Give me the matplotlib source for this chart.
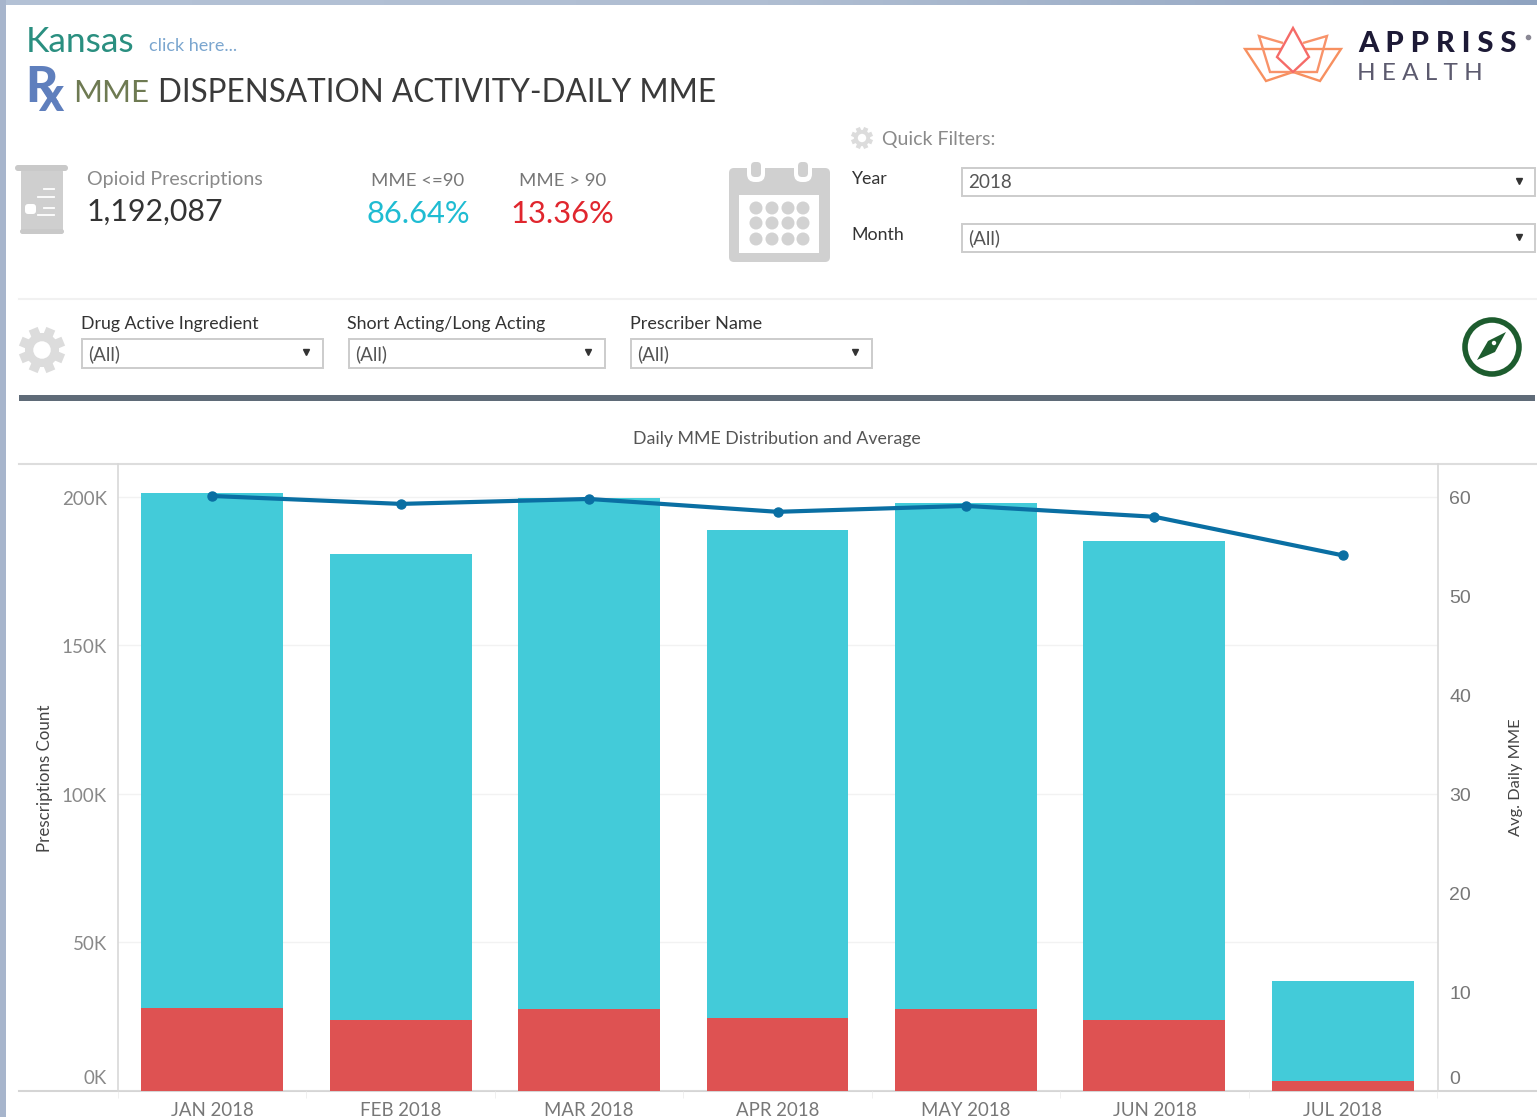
import numpy as np
import matplotlib
matplotlib.use("Agg")
from matplotlib import pyplot as plt
from matplotlib.patches import Rectangle, Circle, Polygon, FancyBboxPatch
from matplotlib.transforms import ScaledTranslation

plt.rcParams['font.family'] = ['Lato', 'DejaVu Sans']

# Data
months = ['JAN 2018', 'FEB 2018', 'MAR 2018', 'APR 2018', 'MAY 2018', 'JUN 2018', 'JUL 2018']
mme_over_90 = [27900, 23900, 27600, 24600, 27600, 23900, 3400]
mme_under_90 = [173400, 156900, 172100, 164300, 170400, 161300, 33600]
avg_daily_mme = [60.1, 59.3, 59.8, 58.5, 59.1, 58.0, 54.1]
left_ticks = [0, 50000, 100000, 150000, 200000]
left_labels = ['0K', '50K', '100K', '150K', '200K']
right_ticks = [0, 10, 20, 30, 40, 50, 60]

W, H = 1537, 1117
fig = plt.figure(figsize=(W / 100, H / 100), dpi=100, facecolor='white')

# layer for the dashboard pieces, in pixel coordinates
bg = fig.add_axes([0, 0, 1, 1])
bg.set_xlim(0, W)
bg.set_ylim(H, 0)
bg.axis('off')


def txt(x, y, s, size, color, ha='left', rotation=0, weight='normal', family=None):
    dy = 0 if rotation else 2
    return bg.text(x, y + dy, s, fontsize=size, color=color, ha=ha, va='center', rotation=rotation,
                   fontweight=weight, family=family if family else ['Lato', 'DejaVu Sans'], zorder=6)


def gear(x, y, r, color):
    for a in np.arange(0, 180, 45):
        dx, dy = np.cos(np.radians(a + 22.5)) * r, np.sin(np.radians(a + 22.5)) * r
        bg.plot([x - dx, x + dx], [y - dy, y + dy], color=color, lw=r * 0.3, solid_capstyle='butt')
    bg.add_patch(Circle((x, y), r * 0.74, fc=color, ec='none', zorder=3))
    bg.add_patch(Circle((x, y), r * 0.38, fc='white', ec='none', zorder=4))


def dropdown(x0, x1, y0, y1, label, arrow_x):
    bg.add_patch(Rectangle((x0, y0), x1 - x0, y1 - y0, fc='white', ec='#cccccc', lw=1.4))
    txt(x0 + 6.5, (y0 + y1) / 2 - 1.5, label, 13.6, '#555555')
    bg.plot([arrow_x], [(y0 + y1) / 2 - 1.5], marker='v', ms=5, color='#333333', ls='none')


# window border
grad = np.linspace(0, 1, 256).reshape(1, -1)
cmap = matplotlib.colors.LinearSegmentedColormap.from_list('b', ['#b4c2d6', '#b0bed2', '#8fa3c0'])
bg.imshow(grad, extent=(0, W, 5, 0), aspect='auto', cmap=cmap)
bg.add_patch(Rectangle((0, 0), 5.5, H, fc='#a7b5cc', ec='none'))
bg.set_xlim(0, W)
bg.set_ylim(H, 0)

# header
txt(26, 40, 'Kansas', 25.5, '#2a8f80')
txt(149, 44, 'click here...', 13, '#7ba6cf')
txt(25, 85, 'R', 36, '#5f7fbd', weight='black')
txt(38, 95, 'x', 34, '#5f7fbd', weight='black')
txt(73, 91, 'MME', 22.5, '#6e7a52')
txt(158, 91, 'DISPENSATION ACTIVITY-DAILY MME', 22.7, '#3a3a3a')

# logo
logo_outer = [(1245, 49), (1341, 49), (1320, 81), (1293, 72), (1266, 81)]
logo_inner = [(1283, 43), (1259, 36), (1270, 72), (1317, 72), (1327, 36), (1303, 43)]
logo_petal = [(1293, 28), (1309, 57), (1293, 72), (1277, 57)]
bg.add_patch(Polygon(logo_outer, closed=True, fc='none', ec='#f79060', lw=1.7))
bg.add_patch(Polygon(logo_inner, closed=False, fc='none', ec='#f8936a', lw=1.7))
bg.add_patch(Polygon(logo_petal, closed=True, fc='white', ec='#f56b68', lw=1.7, zorder=3))
txt(1358, 42, 'A P P R I S S', 21, '#1d1a36', weight='black')
bg.plot([1528], [37], marker='o', ms=3, color='#8a8894')
txt(1357, 71, 'H E A L T H', 17.5, '#5c5a6e')

# KPI row
bg.add_patch(FancyBboxPatch((21, 170), 42, 61, boxstyle='round,pad=0,rounding_size=2', fc='#cfcfcf', ec='none'))
bg.add_patch(FancyBboxPatch((15, 165), 53, 6, boxstyle='round,pad=0,rounding_size=3', fc='#c9c9c9', ec='none'))
bg.add_patch(FancyBboxPatch((20, 229), 44, 5, boxstyle='round,pad=0,rounding_size=2.5', fc='#c9c9c9', ec='none'))
bg.add_patch(FancyBboxPatch((25, 204), 11, 10, boxstyle='round,pad=0,rounding_size=3', fc='white', ec='none'))
for yy, x0 in [(189, 44), (197, 38), (208, 44), (215, 38)]:
    bg.plot([x0, 54], [yy, yy], color='white', lw=1.3)
txt(87, 178, 'Opioid Prescriptions', 14.1, '#8a8a8a')
txt(87, 210, '1,192,087', 21.8, '#333333')
txt(418, 179, 'MME <=90', 13.3, '#777777', ha='center')
txt(563, 179, 'MME > 90', 13.3, '#777777', ha='center')
txt(418, 212, '86.64%', 22.2, '#1fbcd2', ha='center')
txt(562, 212, '13.36%', 22.2, '#e0262e', ha='center')

# calendar icon
bg.add_patch(FancyBboxPatch((729, 168), 101, 94, boxstyle='round,pad=0,rounding_size=5', fc='#d0d0d0', ec='none'))
bg.add_patch(Rectangle((739, 195), 80, 58, fc='white', ec='none'))
for cx in [756, 803]:
    bg.add_patch(FancyBboxPatch((cx - 9, 160), 18, 22, boxstyle='round,pad=0,rounding_size=8', fc='white', ec='none'))
    bg.add_patch(FancyBboxPatch((cx - 5, 162), 10, 15, boxstyle='round,pad=0,rounding_size=4', fc='#d0d0d0', ec='none'))
for cy in [208, 223, 239]:
    for cx in [756, 772, 788, 803]:
        bg.add_patch(Circle((cx, cy), 6.5, fc='#d2d2d2', ec='none'))

# quick filters
gear(862, 138, 11, '#dcdcdc')
txt(882, 138, 'Quick Filters:', 14, '#8a8a8a')
txt(851, 177, 'Year', 12.8, '#333333')
txt(851, 233, 'Month', 12.8, '#333333')
dropdown(962, 1535, 168, 196, '2018', 1519)
dropdown(962, 1535, 224, 252, '(All)', 1519)

# second filter row
bg.plot([19, W], [299, 299], color='#f1f1f1', lw=1.5)
gear(42, 350, 23, '#dcdcdc')
txt(81, 322, 'Drug Active Ingredient', 12.8, '#333333')
txt(347, 322, 'Short Acting/Long Acting', 12.8, '#333333')
txt(630, 322, 'Prescriber Name', 13, '#333333')
dropdown(82, 323, 339, 368, '(All)', 306)
dropdown(349, 605, 339, 368, '(All)', 588)
dropdown(631, 872, 339, 368, '(All)', 855)

# compass
bg.add_patch(Circle((1492, 347), 27, fc='white', ec='#1d5c2e', lw=4))
bg.add_patch(Polygon([(1506, 332), (1495, 352), (1477, 360), (1488, 341)], closed=True, fc='#1d5c2e', ec='none'))
bg.add_patch(Circle((1494, 343), 2.2, fc='white', ec='none'))

bg.add_patch(Rectangle((19, 395), 1516, 6, fc='#5f6b78', ec='none'))
txt(777, 437, 'Daily MME Distribution and Average', 12.8, '#555555', ha='center')

# chart frame lines
bg.plot([19, W], [464, 464], color='#dddddd', lw=1.5)
bg.plot([19, W], [1091, 1091], color='#d5d5d5', lw=1.5)

# chart
x = np.arange(len(months))
top_px, bottom_px, left_px, right_px = 464, 1091, 118, 1438
ax = fig.add_axes([left_px / W, 1 - bottom_px / H, (right_px - left_px) / W, (bottom_px - top_px) / H])
ax.patch.set_alpha(0)
ax.bar(x, mme_over_90, width=0.753, color='#de5252', zorder=2)
ax.bar(x, mme_under_90, width=0.753, bottom=mme_over_90, color='#43cbd9', zorder=2)
ax.set_xlim(-0.49, 6.505)
ax.set_ylim(0, 211100)
ax.set_xticks(x)
ax.set_xticklabels(months, fontsize=13.4, color='#777777')
ax.tick_params(axis='x', length=0, pad=8)
ax.set_xticks(np.arange(-0.5, 7), minor=True)
ax.tick_params(axis='x', which='minor', length=5, color='#eeeeee')
ax.set_yticks(left_ticks)
ax.set_yticklabels(left_labels, fontsize=13.5, color='#888888')
ax.tick_params(axis='y', length=0, pad=8)
ax.grid(axis='y', color='#f2f2f2', lw=1, zorder=0)
ax.set_axisbelow(True)
for name in ['top', 'bottom']:
    ax.spines[name].set_visible(False)
for name in ['left', 'right']:
    ax.spines[name].set_color('#d8d8d8')
    ax.spines[name].set_linewidth(1.2)

ax2 = ax.twinx()
ax2.patch.set_alpha(0)
ax2.plot(x, avg_daily_mme, color='#0a6fa3', lw=3, marker='o', ms=6.5, zorder=5)
ax2.set_ylim(0, 63.33)
ax2.set_yticks(right_ticks)
ax2.set_yticklabels([str(v) for v in right_ticks], fontsize=14, color='#777777', family='Liberation Sans')
ax2.tick_params(axis='y', length=0, pad=8)
for name in ['top', 'bottom', 'left', 'right']:
    ax2.spines[name].set_visible(False)

# the zero labels sit above the baseline, the others 1 px lower
for axis in [ax, ax2]:
    for i, lab in enumerate(axis.get_yticklabels()):
        px = 14 if i == 0 else -1
        lab.set_transform(lab.get_transform() + ScaledTranslation(0, px / 100, fig.dpi_scale_trans))

txt(45, 778, 'Prescriptions Count', 12.2, '#444444', ha='center', rotation=90)
txt(1516, 777, 'Avg. Daily MME', 11.8, '#444444', ha='center', rotation=90)

fig.savefig('out.png', dpi=100)
